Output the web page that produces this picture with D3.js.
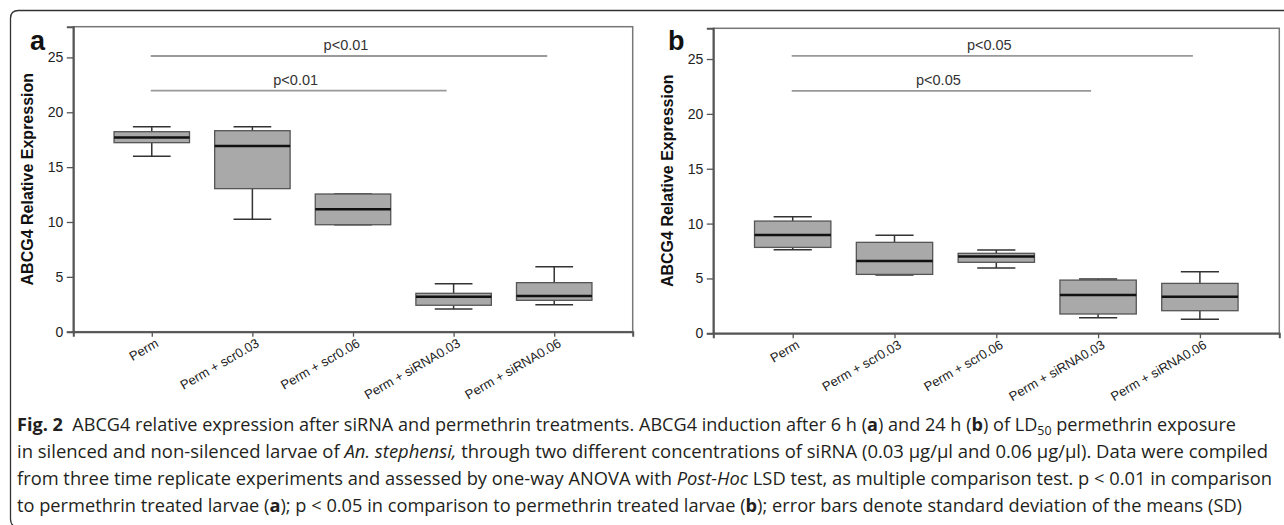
<!DOCTYPE html>
<html>
<head>
<meta charset="utf-8">
<script src="https://cdn.jsdelivr.net/npm/d3@7"></script>
<style>
  body { margin: 0; background: #fff; }
  svg { display: block; }
  .tick text { font-family: "Liberation Sans", Arial, sans-serif; }
</style>
</head>
<body>
<script>
// Data
var categories = ["Perm", "Perm + scr0.03", "Perm + scr0.06", "Perm + siRNA0.03", "Perm + siRNA0.06"];
var yTicks = [0, 5, 10, 15, 20, 25];

// panel a (6 h)
var lowA = [16.0, 10.25, 9.75, 2.07, 2.46];
var q1A = [17.23, 13.04, 9.75, 2.41, 2.86];
var medA = [17.69, 16.93, 11.16, 3.19, 3.25];
var q3A = [18.23, 18.32, 12.55, 3.50, 4.47];
var highA = [18.69, 18.69, 12.55, 4.38, 5.93];
var sigYA = [25.13, 21.97];
var sigToA = [4, 3];
var sigLabelA = ["p<0.01", "p<0.01"];

// panel b (24 h)
var lowB = [7.61, 5.31, 5.95, 1.42, 1.28];
var q1B = [7.83, 5.37, 6.47, 1.76, 2.06];
var medB = [8.95, 6.58, 7.01, 3.49, 3.33];
var q3B = [10.23, 8.29, 7.29, 4.85, 4.55];
var highB = [10.62, 8.93, 7.59, 4.95, 5.61];
var sigYB = [25.28, 22.1];
var sigToB = [4, 3];
var sigLabelB = ["p<0.05", "p<0.05"];

var svgWidth = 1284, svgHeight = 525;

var svg = d3.select("body").append("svg")
    .attr("width", svgWidth)
    .attr("height", svgHeight);

// outer figure frame (rounded left corners, open right)
svg.append("path")
    .attr("d", "M1290,10.5 H18.5 Q10.5,10.5 10.5,18.5 V519 Q10.5,527 18.5,527 H1290")
    .attr("fill", "none")
    .attr("stroke", "#333")
    .attr("stroke-width", 1.3);

function drawPanel(opt) {
    var g = svg.append("g");
    var x = d3.scalePoint().domain(categories).range([opt.left, opt.right]).padding(0.78);
    var y = d3.scaleLinear().domain([0, 27.8]).range([opt.bottom, opt.top]);
    var boxW = x.step() * 0.75;
    var capW = boxW / 2;

    // plot box
    g.append("rect")
        .attr("x", opt.left).attr("y", opt.top)
        .attr("width", opt.right - opt.left).attr("height", opt.bottom - opt.top)
        .attr("fill", "none").attr("stroke", "#777").attr("stroke-width", 1.5);

    // y axis
    var yAxis = g.append("g")
        .attr("transform", `translate(${opt.left},0)`)
        .call(d3.axisLeft(y).tickValues(yTicks).tickSize(6.5).tickPadding(3.5));
    yAxis.select(".domain").attr("stroke", "#555").attr("stroke-width", 2);
    yAxis.selectAll(".tick line").attr("stroke", "#555").attr("stroke-width", 1.3);
    yAxis.selectAll(".tick text").attr("font-size", 14).attr("fill", "#222");

    // x axis
    var xAxis = g.append("g")
        .attr("transform", `translate(0,${opt.bottom})`)
        .call(d3.axisBottom(x).tickSize(5).tickFormat(""));
    xAxis.select(".domain").attr("stroke", "#555").attr("stroke-width", 2);
    xAxis.selectAll(".tick line").attr("stroke", "#555").attr("stroke-width", 1.3);

    g.selectAll(".xlab").data(categories).enter().append("text")
        .attr("class", "xlab")
        .attr("transform", d => `translate(${x(d) + 3},${opt.bottom + 6}) rotate(-30)`)
        .attr("text-anchor", "end")
        .attr("dy", "0.72em")
        .attr("font-family", "Liberation Sans, Arial, sans-serif")
        .attr("font-size", 13)
        .attr("fill", "#222")
        .text(d => d);

    // y title
    g.append("text")
        .attr("transform", `translate(${opt.left - 40},${(opt.top + opt.bottom) / 2}) rotate(-90)`)
        .attr("text-anchor", "middle")
        .attr("font-family", "Liberation Sans, Arial, sans-serif")
        .attr("font-weight", "bold")
        .attr("font-size", 16)
        .attr("fill", "#111")
        .text("ABCG4 Relative Expression");

    // panel letter
    g.append("text")
        .attr("x", opt.letterX).attr("y", 50)
        .attr("font-family", "Liberation Sans, Arial, sans-serif")
        .attr("font-weight", "bold")
        .attr("font-size", 27)
        .attr("fill", "#111")
        .text(opt.letter);

    // significance lines
    opt.sigY.forEach(function(v, i) {
        var x0 = x(categories[0]) - 1;
        var x1 = x(categories[opt.sigTo[i]]) - 7;
        g.append("line")
            .attr("x1", x0).attr("x2", x1)
            .attr("y1", y(v)).attr("y2", y(v))
            .attr("stroke", "#999").attr("stroke-width", 1.8);
        g.append("text")
            .attr("x", (x0 + x1) / 2 - 3).attr("y", y(v) - 6)
            .attr("text-anchor", "middle")
            .attr("font-family", "Liberation Sans, Arial, sans-serif")
            .attr("font-size", 14.5)
            .attr("fill", "#333")
            .text(opt.sigLabel[i]);
    });

    // boxes
    var boxes = g.selectAll(".box").data(categories).enter().append("g").attr("class", "box");
    // whiskers
    boxes.append("line")
        .attr("x1", d => x(d)).attr("x2", d => x(d))
        .attr("y1", (d, i) => y(opt.high[i])).attr("y2", (d, i) => y(opt.q3[i]))
        .attr("stroke", "#333").attr("stroke-width", 1.5);
    boxes.append("line")
        .attr("x1", d => x(d)).attr("x2", d => x(d))
        .attr("y1", (d, i) => y(opt.q1[i])).attr("y2", (d, i) => y(opt.low[i]))
        .attr("stroke", "#333").attr("stroke-width", 1.5);
    boxes.append("line")
        .attr("x1", d => x(d) - capW / 2).attr("x2", d => x(d) + capW / 2)
        .attr("y1", (d, i) => y(opt.high[i])).attr("y2", (d, i) => y(opt.high[i]))
        .attr("stroke", "#333").attr("stroke-width", 1.5);
    boxes.append("line")
        .attr("x1", d => x(d) - capW / 2).attr("x2", d => x(d) + capW / 2)
        .attr("y1", (d, i) => y(opt.low[i])).attr("y2", (d, i) => y(opt.low[i]))
        .attr("stroke", "#333").attr("stroke-width", 1.5);
    boxes.append("rect")
        .attr("x", d => x(d) - boxW / 2)
        .attr("width", boxW)
        .attr("y", (d, i) => y(opt.q3[i]))
        .attr("height", (d, i) => y(opt.q1[i]) - y(opt.q3[i]))
        .attr("fill", "#a9a9a9").attr("stroke", "#555").attr("stroke-width", 1.3);
    boxes.append("line")
        .attr("x1", d => x(d) - boxW / 2).attr("x2", d => x(d) + boxW / 2)
        .attr("y1", (d, i) => y(opt.med[i])).attr("y2", (d, i) => y(opt.med[i]))
        .attr("stroke", "#111").attr("stroke-width", 2.5);
}

drawPanel({ left: 73.3, right: 632.7, top: 26.7, bottom: 331.7, letter: "a", letterX: 30,
    low: lowA, q1: q1A, med: medA, q3: q3A, high: highA,
    sigY: sigYA, sigTo: sigToA, sigLabel: sigLabelA });
drawPanel({ left: 713.3, right: 1279.3, top: 28.3, bottom: 333.3, letter: "b", letterX: 668,
    low: lowB, q1: q1B, med: medB, q3: q3B, high: highB,
    sigY: sigYB, sigTo: sigToB, sigLabel: sigLabelB });

// caption
var captionLines = [
    [["Fig. 2", "b"], ["  ABCG4 relative expression after siRNA and permethrin treatments. ABCG4 induction after 6 h (", ""], ["a", "b"], [") and 24 h (", ""], ["b", "b"], [") of LD", ""], ["50", "sub"], [" permethrin exposure", ""]],
    [["in silenced and non-silenced larvae of ", ""], ["An. stephensi,", "i"], [" through two different concentrations of siRNA (0.03 µg/µl and 0.06 µg/µl). Data were compiled", ""]],
    [["from three time replicate experiments and assessed by one-way ANOVA with ", ""], ["Post-Hoc", "i"], [" LSD test, as multiple comparison test. p < 0.01 in comparison", ""]],
    [["to permethrin treated larvae (", ""], ["a", "b"], ["); p < 0.05 in comparison to permethrin treated larvae (", ""], ["b", "b"], ["); error bars denote standard deviation of the means (SD)", ""]]
];
var captionEnds = [1236, 1268, 1272, 1242];
var captionBase = [431, 458, 485, 512];

captionLines.forEach(function(parts, li) {
    var t = svg.append("text")
        .attr("x", 17)
        .attr("y", captionBase[li])
        .attr("font-family", "Open Sans, Noto Sans, sans-serif")
        .attr("font-size", 17.5)
        .attr("fill", "#231f20")
        .attr("textLength", captionEnds[li] - 17)
        .attr("lengthAdjust", "spacingAndGlyphs")
        .style("white-space", "pre");
    parts.forEach(function(p, k) {
        var s = t.append("tspan").text(p[0]);
        if (p[1] === "b") s.attr("font-weight", "bold");
        if (p[1] === "i") s.attr("font-style", "italic");
        if (p[1] === "sub") s.attr("font-size", 12).attr("dy", 4);
        if (k > 0 && parts[k - 1][1] === "sub") s.attr("dy", -4);
    });
});
</script>
</body>
</html>
